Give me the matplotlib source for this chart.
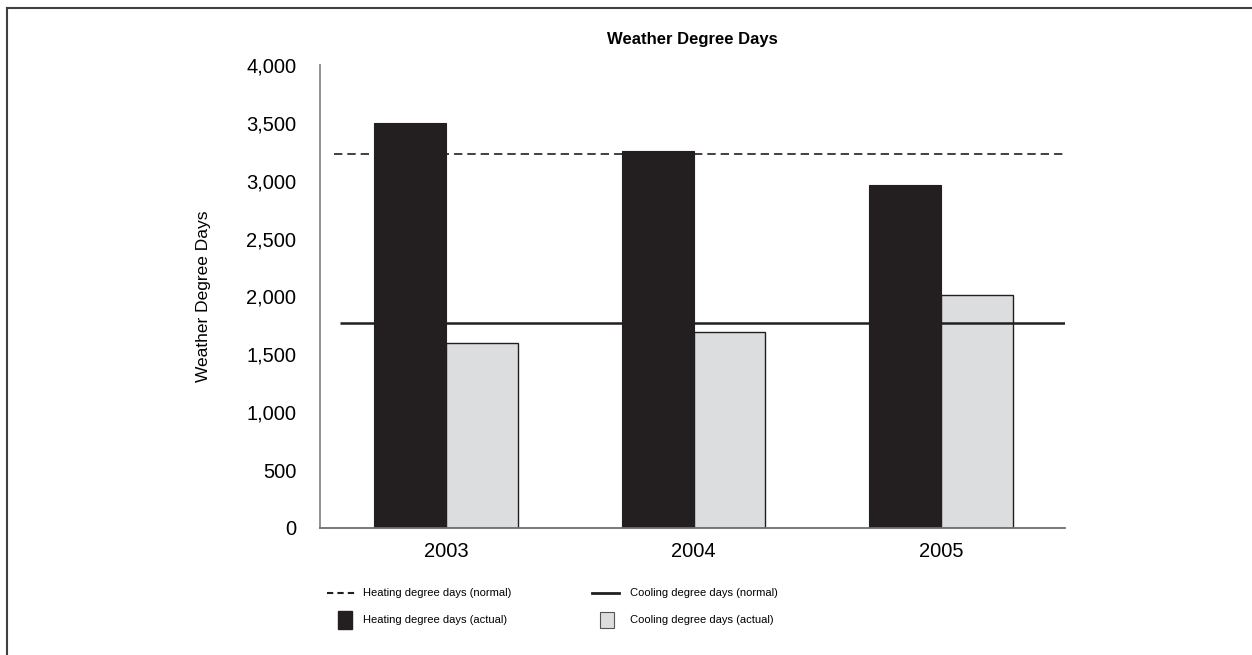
import matplotlib
matplotlib.use("Agg")
import matplotlib.pyplot as plt
from matplotlib.lines import Line2D
from matplotlib.patches import Rectangle
import numpy as np

years = ["2003", "2004", "2005"]
heating_actual = [3500, 3260, 2960]
cooling_actual = [1600, 1690, 2010]
heating_normal = 3230
cooling_normal = 1770
y_ticks = [0, 500, 1000, 1500, 2000, 2500, 3000, 3500, 4000]

plt.rcParams["font.family"] = ["Liberation Sans", "DejaVu Sans"]

DARK = "#231f20"
LIGHT = "#dcdddf"

fig = plt.figure(figsize=(12.52, 6.55), dpi=100)
ax = fig.add_axes([0.2556, 0.1939, 0.595, 0.7069])

x = np.arange(len(years))
w = 0.29
ax.bar(x - w / 2, heating_actual, width=w, color=DARK, edgecolor=DARK, linewidth=0.8, zorder=2)
ax.bar(x + w / 2, cooling_actual, width=w, color=LIGHT, edgecolor=DARK, linewidth=1.0, zorder=2)

ax.hlines(heating_normal, -0.455, 2.50, colors=DARK, linestyles=(0, (5, 3)), linewidth=1.2, zorder=3)
ax.hlines(cooling_normal, -0.43, 2.50, colors=DARK, linewidth=1.8, zorder=3)

ax.set_xlim(-0.51, 2.50)
ax.set_ylim(0, 4000)
ax.set_xticks(x)
ax.set_xticklabels(years, fontsize=14.5)
ax.set_yticks(y_ticks)
ax.set_yticklabels([f"{v:,}" for v in y_ticks], fontsize=14.5)
ax.tick_params(length=0)
ax.tick_params(axis="y", pad=17)
ax.tick_params(axis="x", pad=10)

for s in ("top", "right"):
    ax.spines[s].set_visible(False)
ax.spines["left"].set_color("#8a8a8a")
ax.spines["left"].set_linewidth(1.3)
ax.spines["bottom"].set_color("#6d6e71")
ax.spines["bottom"].set_linewidth(1.3)

ax.set_ylabel("Weather Degree Days", fontsize=12.5)
ax.yaxis.set_label_coords(-0.146, 0.5)
fig.text(0.553, 0.939, "Weather Degree Days", ha="center", va="center",
         fontsize=12, fontweight="bold")

# legend drawn in figure coordinates
W, H = 1252, 655
def fx(px):
    return px / W
def fy(py):
    return 1 - py / H

row1, row2 = 593, 620
fig.add_artist(Line2D([fx(327), fx(355)], [fy(row1), fy(row1)], color=DARK,
                      linestyle=(0, (3, 2)), linewidth=1.5))
fig.add_artist(Rectangle((fx(338), fy(row2 + 9)), fx(14), 18 / H, color=DARK))
fig.add_artist(Line2D([fx(592), fx(619)], [fy(row1), fy(row1)], color=DARK, linewidth=2))
fig.add_artist(Rectangle((fx(600), fy(row2 + 8)), fx(14), 16 / H, facecolor=LIGHT,
                         edgecolor="#555555", linewidth=0.8))

leg_items = [
    (363, row1, "Heating degree days (normal)"),
    (363, row2, "Heating degree days (actual)"),
    (630, row1, "Cooling degree days (normal)"),
    (630, row2, "Cooling degree days (actual)"),
]
for px, py, label in leg_items:
    fig.text(fx(px), fy(py), label, ha="left", va="center", fontsize=8)

# outer frame
fig.add_artist(Line2D([fx(7), 1], [fy(8), fy(8)], color="#404040", linewidth=1.5))
fig.add_artist(Line2D([fx(7), fx(7)], [fy(8), 0], color="#404040", linewidth=1.5))

fig.savefig("out.png", dpi=100, facecolor="white")
